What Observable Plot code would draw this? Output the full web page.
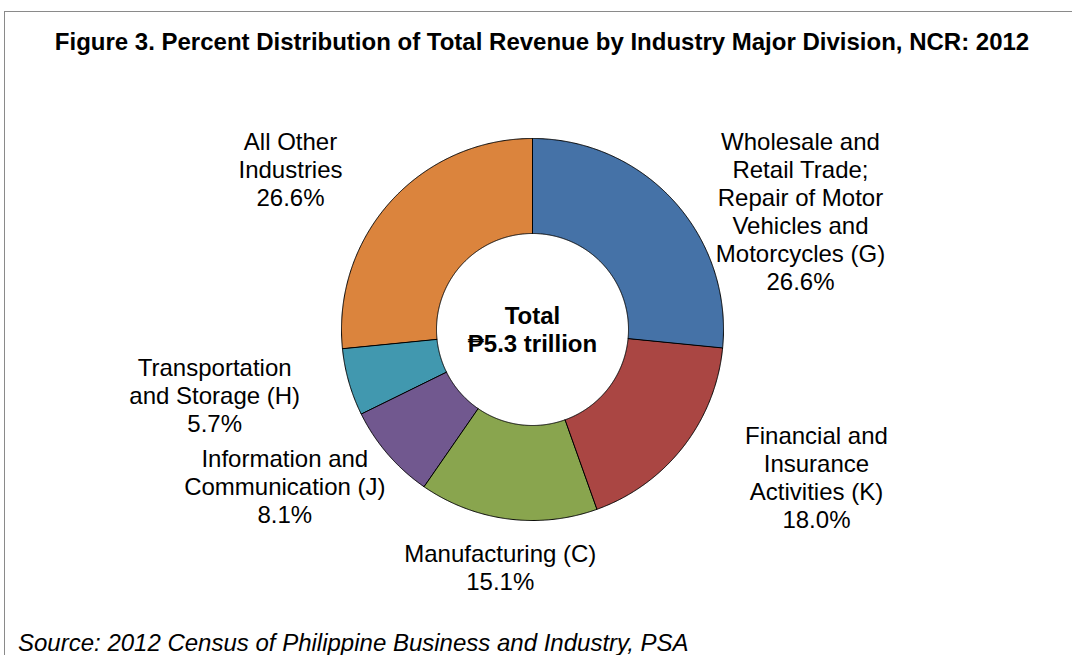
<!DOCTYPE html>
<html>
<head>
<meta charset="utf-8">
<script src="https://cdn.jsdelivr.net/npm/d3@7"></script>
<script src="https://cdn.jsdelivr.net/npm/@observablehq/plot@0.6"></script>
<style>
  html, body { margin: 0; padding: 0; background: #fff; width: 1072px; height: 655px; overflow: hidden; }
  body { position: relative; font-family: "Liberation Sans", Arial, "DejaVu Sans", sans-serif; color: #000; }
  #frame { position: absolute; left: 4px; top: 11px; width: 1090px; height: 700px; border: 1px solid #8a8a8a; box-sizing: border-box; }
  #title { position: absolute; left: 4px; width: 1076px; top: 30px; text-align: center; font-weight: bold; font-size: 24px; line-height: 24px; white-space: nowrap; }
  #chart { position: absolute; left: 0; top: 60px; }
  #caption { position: absolute; left: 18px; top: 631px; font-style: italic; font-size: 24px; line-height: 24px; white-space: nowrap; }
</style>
</head>
<body>
<div id="frame"></div>
<div id="title">Figure 3. Percent Distribution of Total Revenue by Industry Major Division, NCR: 2012</div>
<div id="chart"></div>
<div id="caption">Source: 2012 Census of Philippine Business and Industry, PSA</div>
<script>
// ---- Data ----
const categories = [
  "Wholesale and\nRetail Trade;\nRepair of Motor\nVehicles and\nMotorcycles (G)",
  "Financial and\nInsurance\nActivities (K)",
  "Manufacturing (C)",
  "Information and\nCommunication (J)",
  "Transportation\nand Storage (H)",
  "All Other\nIndustries"
];
const shares = [26.6, 18.0, 15.1, 8.1, 5.7, 26.6];
const palette = ["#4572A7", "#AA4643", "#89A54E", "#71588F", "#4198AF", "#DB843D"];
const centerLabel = ["Total", "\u20B15.3 trillion"];

// ---- Layout (pixels in projection units) ----
const W = 1072, H = 540;
const cx = 532, cy = 269;            // donut centre inside the SVG
const outerR = 191, innerR = 96;
const labelShiftX = 13, labelRx = 344, labelRy = 240; // ellipse on which label centres sit
const lineH = 28, fontSize = 24;
const labelTop = -202;               // top bound of label boxes (relative to centre)
const fontFamily = '"Liberation Sans", Arial, "DejaVu Sans", sans-serif';

const rows = categories.map((c, i) => ({category: c, share: shares[i]}));
const arcs = d3.pie().sort(null).value(d => d.share)(rows);

function ringPolygon(a0, a1, r0, r1) {
  const n = Math.max(2, Math.ceil((a1 - a0) / 0.005));
  const pts = [];
  for (let i = 0; i <= n; i++) { const a = a0 + (a1 - a0) * i / n; pts.push([r1 * Math.sin(a), -r1 * Math.cos(a)]); }
  for (let i = n; i >= 0; i--) { const a = a0 + (a1 - a0) * i / n; pts.push([r0 * Math.sin(a), -r0 * Math.cos(a)]); }
  pts.push(pts[0]);
  return pts;
}

const slices = arcs.map(a => ({
  type: "Feature",
  properties: {category: a.data.category, share: a.data.share},
  geometry: {type: "Polygon", coordinates: [ringPolygon(a.startAngle, a.endAngle, innerR, outerR)]}
}));

const labels = arcs.map(a => {
  const mid = (a.startAngle + a.endAngle) / 2;
  const text = a.data.category + "\n" + a.data.share.toFixed(1) + "%";
  const n = text.split("\n").length;
  const x = labelShiftX + Math.sin(mid) * labelRx;
  let y = -Math.cos(mid) * labelRy;
  const minY = labelTop + n * lineH / 2;
  if (y < minY) y = minY;
  return {x, y, text};
});

const frameDomain = {
  type: "Feature", properties: {},
  geometry: {type: "Polygon", coordinates: [[[-cx, -cy], [W - cx, -cy], [W - cx, H - cy], [-cx, H - cy], [-cx, -cy]]]}
};

const plot = Plot.plot({
  width: W,
  height: H,
  margin: 0,
  projection: {type: "identity", domain: frameDomain},
  color: {domain: categories, range: palette},
  style: {fontFamily, background: "transparent", overflow: "visible"},
  marks: [
    Plot.geo(slices, {fill: d => d.properties.category, stroke: "#000", strokeWidth: 1}),
    Plot.text(labels, {x: "x", y: "y", text: "text", fontSize, lineHeight: lineH / fontSize, fill: "#000"}),
    Plot.text([centerLabel.join("\n")], {x: () => 0, y: () => 0, text: d => d, fontSize, fontWeight: "bold", lineHeight: lineH / fontSize, fill: "#000"})
  ]
});
document.getElementById("chart").appendChild(plot);
</script>
</body>
</html>
